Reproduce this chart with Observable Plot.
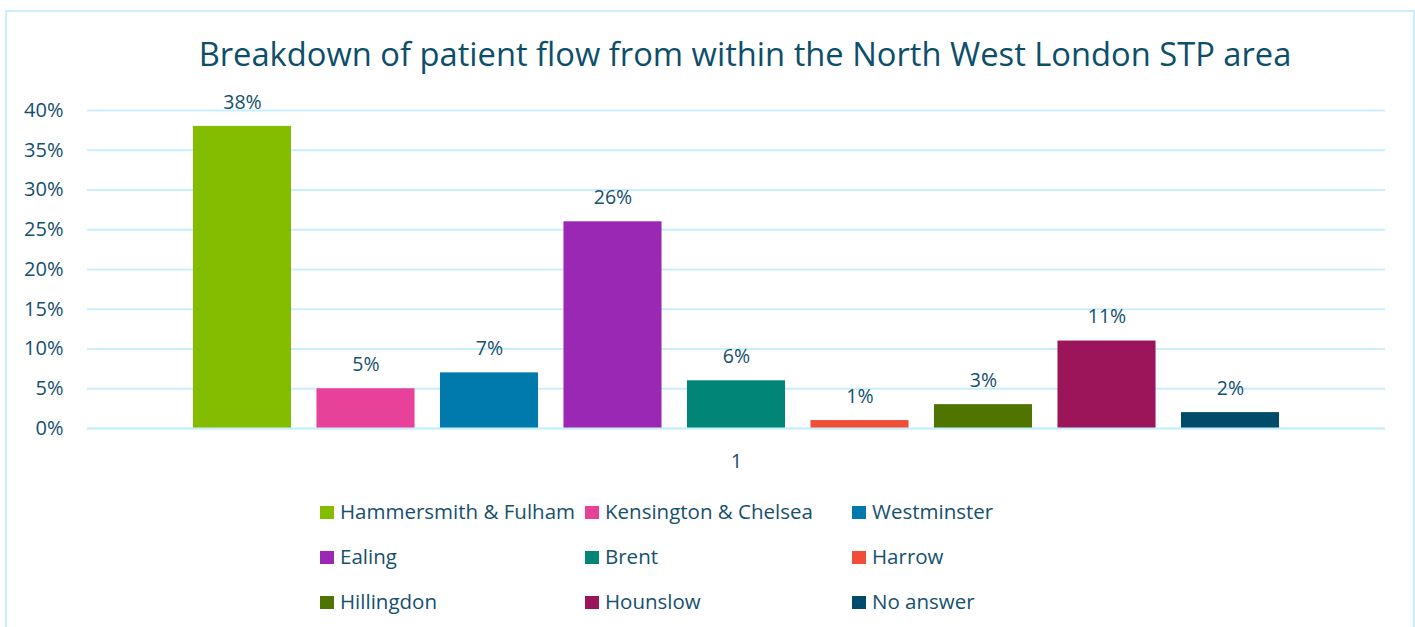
<!DOCTYPE html>
<html><head><meta charset="utf-8">
<script src="https://cdn.jsdelivr.net/npm/d3@7"></script>
<script src="https://cdn.jsdelivr.net/npm/@observablehq/plot@0.6"></script>
<style>
body{margin:0;background:#fff;font-family:"Open Sans",sans-serif;}
#wrap{position:relative;width:1415px;height:627px;overflow:hidden;background:#fff;}
#frame{position:absolute;left:5px;top:10px;width:1410px;height:640px;border:2px solid #C9EFFD;box-sizing:border-box;}
#title{position:absolute;left:0;top:38px;width:1490px;text-align:center;font-size:32.7px;line-height:1;color:#0D4F6B;white-space:nowrap;}
#chart{position:absolute;left:0;top:0;}
.lg{position:absolute;font-size:20.5px;line-height:24px;color:#15506E;white-space:nowrap;}
.sw{display:inline-block;width:14px;height:13px;margin-right:6px;vertical-align:baseline;}
</style></head>
<body>
<div id="wrap">
<div id="frame"></div>
<div id="title"></div>
<div id="chart"></div>
<div id="legend"></div>
</div>
<script>
const title = "Breakdown of patient flow from within the North West London STP area";
const categories = ["Hammersmith & Fulham","Kensington & Chelsea","Westminster","Ealing","Brent","Harrow","Hillingdon","Hounslow","No answer"];
const values = [38,5,7,26,6,1,3,11,2];
const colors = ["#84BD00","#E84199","#0079AD","#9B27B5","#008576","#F04E37","#507400","#9C1459","#004B6A"];
const groupLabel = "1";
const yTicks = [0,5,10,15,20,25,30,35,40];

const data = categories.map((c,i)=>({group: groupLabel, cat: c, value: values[i]}));
const textColor = "#15506E";
const gridColor = "#C9EFFD";

document.getElementById("title").textContent = title;

const chart = Plot.plot({
  width: 1415,
  height: 480,
  marginTop: 110,
  marginBottom: 52,
  marginLeft: 87,
  marginRight: 30,
  style: {fontFamily: "'Open Sans', sans-serif", fontSize: "20px", color: textColor, background: "transparent"},
  fx: {domain: [groupLabel], padding: 0, round: false, label: null, axis: "bottom", tickSize: 0, tickPadding: 25},
  x: {domain: categories, paddingInner: 0.206, paddingOuter: 0.858, round: false, axis: null},
  y: {domain: [0, 40], ticks: yTicks, tickFormat: d => d + "%", tickSize: 0, tickPadding: 24, label: null},
  color: {domain: categories, range: colors},
  marks: [
    Plot.ruleY(yTicks, {stroke: gridColor, strokeWidth: 2}),
    Plot.barY(data, {fx: "group", x: "cat", y: "value", fill: "cat"}),
    Plot.text(data, {fx: "group", x: "cat", y: "value", text: d => d.value + "%", dy: -24, fill: textColor, fontSize: 19.5}),
    Plot.ruleY([0], {stroke: gridColor, strokeWidth: 2})
  ]
});
document.getElementById("chart").appendChild(chart);

const legend = document.getElementById("legend");
const colX = [320, 585, 852];
const rowY = [499, 544, 589];
categories.forEach((c,i)=>{
  const d = document.createElement("div");
  d.className = "lg";
  d.style.left = colX[i % 3] + "px";
  d.style.top = rowY[Math.floor(i / 3)] + "px";
  const s = document.createElement("span");
  s.className = "sw";
  s.style.background = colors[i];
  d.appendChild(s);
  d.appendChild(document.createTextNode(c));
  legend.appendChild(d);
});
</script>
</body></html>
